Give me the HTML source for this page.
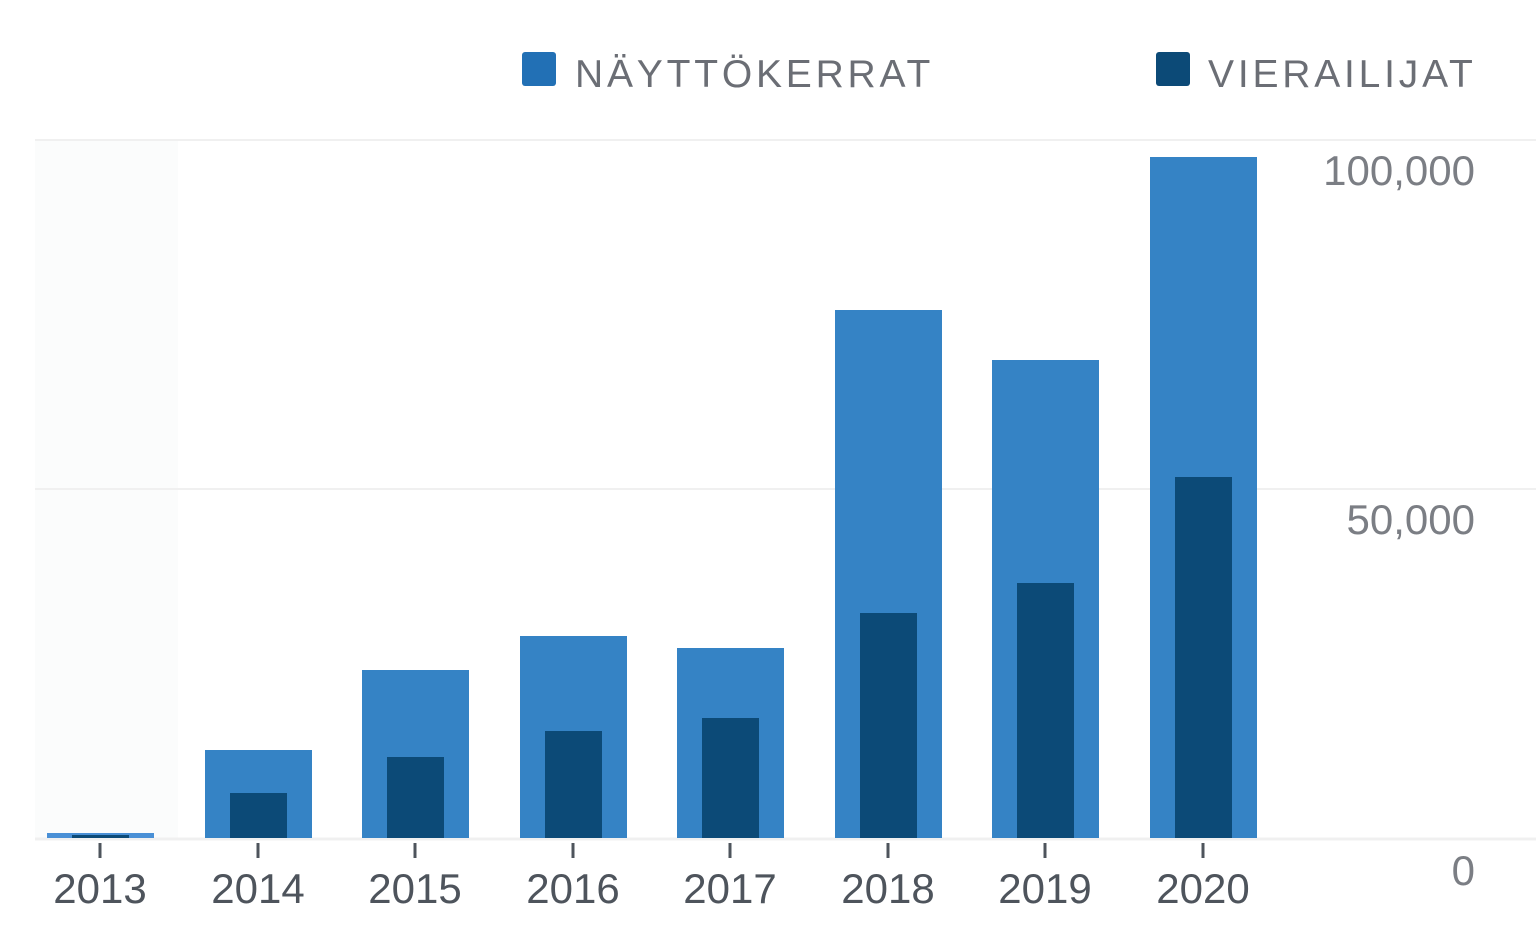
<!DOCTYPE html>
<html><head><meta charset="utf-8"><style>
html,body{margin:0;padding:0;background:#fff;}
svg{display:block;font-family:"Liberation Sans",sans-serif;}
</style></head><body>
<svg width="1536" height="928" viewBox="0 0 1536 928">
<rect x="35" y="140" width="143" height="698" fill="#fbfcfc"/>
<line x1="35" y1="140" x2="1536" y2="140" stroke="#f0f0f0" stroke-width="2"/>
<line x1="35" y1="489" x2="1536" y2="489" stroke="#f0f0f0" stroke-width="2"/>
<line x1="35" y1="839" x2="1536" y2="839" stroke="#f0f0f0" stroke-width="3"/>
<g font-size="42" fill="#7b7e84" text-anchor="end">
<text x="1475" y="185">100,000</text>
<text x="1475" y="534">50,000</text>
<text x="1475" y="885">0</text>
</g>
<rect x="522" y="52" width="34" height="34" rx="3" fill="#2270b5"/>
<text x="575" y="87" font-size="39" fill="#6b6e75" letter-spacing="3.8">NÄYTTÖKERRAT</text>
<rect x="1156" y="52" width="34" height="34" rx="3" fill="#0c4a77"/>
<text x="1208" y="87" font-size="39" fill="#6b6e75" letter-spacing="3.8">VIERAILIJAT</text>
<g fill="#3583c5">
<rect x="47" y="833" width="107" height="5" fill="#4a90d6"/>
<rect x="205" y="750" width="107" height="88"/>
<rect x="362" y="670" width="107" height="168"/>
<rect x="520" y="636" width="107" height="202"/>
<rect x="677" y="648" width="107" height="190"/>
<rect x="835" y="310" width="107" height="528"/>
<rect x="992" y="360" width="107" height="478"/>
<rect x="1150" y="157" width="107" height="681"/>
</g>
<g fill="#0c4a77">
<rect x="72" y="835" width="57" height="3"/>
<rect x="230" y="793" width="57" height="45"/>
<rect x="387" y="757" width="57" height="81"/>
<rect x="545" y="731" width="57" height="107"/>
<rect x="702" y="718" width="57" height="120"/>
<rect x="860" y="613" width="57" height="225"/>
<rect x="1017" y="583" width="57" height="255"/>
<rect x="1175" y="477" width="57" height="361"/>
</g>
<g stroke="#4e545c" stroke-width="3">
<line x1="100" y1="843" x2="100" y2="858"/><line x1="258" y1="843" x2="258" y2="858"/>
<line x1="415" y1="843" x2="415" y2="858"/><line x1="573" y1="843" x2="573" y2="858"/>
<line x1="730" y1="843" x2="730" y2="858"/><line x1="888" y1="843" x2="888" y2="858"/>
<line x1="1045" y1="843" x2="1045" y2="858"/><line x1="1203" y1="843" x2="1203" y2="858"/>
</g>
<g font-size="42" fill="#4e545c" text-anchor="middle">
<text x="100" y="903">2013</text><text x="258" y="903">2014</text>
<text x="415" y="903">2015</text><text x="573" y="903">2016</text>
<text x="730" y="903">2017</text><text x="888" y="903">2018</text>
<text x="1045" y="903">2019</text><text x="1203" y="903">2020</text>
</g>
</svg>
</body></html>
